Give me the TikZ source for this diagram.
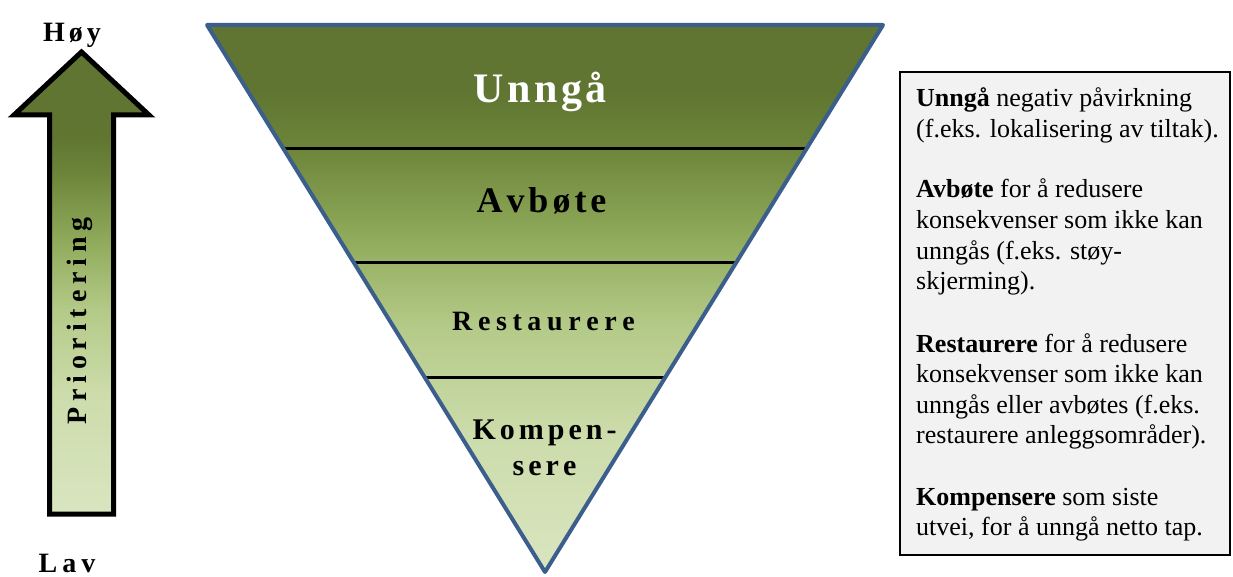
\documentclass[tikz,border=0pt]{standalone}
\usepackage{fontspec}
\setmainfont{Liberation Serif}
\usetikzlibrary{calc}

% letter-spaced text: #1 = gap between letters, #2 = word
\makeatletter
\newcommand\trackedtext[2]{\def\trk@gap{\kern#1}\let\trk@sep\relax
  \@tfor\trk@c:=#2\do{\trk@sep\trk@c\let\trk@sep\trk@gap}}
\makeatother

\definecolor{olive0}{HTML}{5F7531}
\definecolor{olive1}{HTML}{6C8439}
\definecolor{olive2}{HTML}{92AD5E}
\definecolor{olive3}{HTML}{B4CA88}
\definecolor{olive4}{HTML}{CCDCAB}
\definecolor{olive5}{HTML}{D9E5C0}
\definecolor{rimblue}{HTML}{3B5E8C}
\definecolor{notegray}{HTML}{F2F2F2}

% vertical shadings, bottom (0bp) to top (100bp); the path box spans 25bp--75bp
\pgfdeclareverticalshading{funnelshade}{100bp}{
  color(0bp)=(olive5); color(25bp)=(olive5); color(37.5bp)=(olive4);
  color(47.5bp)=(olive3); color(55bp)=(olive2); color(64bp)=(olive1);
  color(69bp)=(olive0); color(100bp)=(olive0)}
\pgfdeclareverticalshading{arrowshade}{100bp}{
  color(0bp)=(olive5); color(25bp)=(olive5); color(38bp)=(olive4);
  color(47bp)=(olive3); color(54bp)=(olive2); color(62bp)=(olive1);
  color(66bp)=(olive0); color(100bp)=(olive0)}

\tikzset{
  layerlabel/.style={anchor=base, inner sep=0pt},
  sidelabel/.style={anchor=base, inner sep=0pt,
    font=\fontsize{28}{32}\selectfont\bfseries},
  noteline/.style={anchor=base west, inner sep=0pt,
    font=\fontsize{26}{30}\selectfont},
  divider/.style={line width=3pt, black},
}

\begin{document}
\begin{tikzpicture}[x=1pt, y=-1pt]
\useasboundingbox (0,0) rectangle (1233,577);

% ---- priority arrow ----
\coordinate (tip) at (81.5,52);
\path[shading=arrowshade, draw=black, line width=5pt, line join=miter]
  (tip) -- (149,115) -- (113.5,115) -- (113.5,514) -- (49.5,514) -- (49.5,115)
  -- (14,115) -- cycle;
\node[sidelabel] (hoy) at (72,42) {\trackedtext{4pt}{Høy}};
\node[sidelabel] (lav) at (67,572) {\trackedtext{5pt}{Lav}};
\node[anchor=base, inner sep=0pt, rotate=90,
  font=\fontsize{28}{32}\selectfont\bfseries] (prio) at (86.5,321)
  {\trackedtext{5.9pt}{Prioritering}};

% ---- inverted pyramid ----
\coordinate (TL) at (207,25);
\coordinate (TR) at (883,25);
\coordinate (B) at (545,572);
\fill[shading=funnelshade] (TL) -- (TR) -- (B) -- cycle;
\foreach \t/\n in {0.2249/a, 0.4333/b, 0.6453/c}{
  \draw[divider] ($(TL)!\t!(B)$) coordinate (l\n) -- ($(TR)!\t!(B)$) coordinate (r\n);
}
\draw[rimblue, line width=4pt, line join=round] (TL) -- (TR) -- (B) -- cycle;

\node[layerlabel, text=white, font=\fontsize{42}{48}\selectfont\bfseries]
  (unnga) at (540,103) {\trackedtext{3.5pt}{Unngå}};
\node[layerlabel, font=\fontsize{36}{42}\selectfont\bfseries]
  (avbote) at (541.5,213) {\trackedtext{4pt}{Avbøte}};
\node[layerlabel, font=\fontsize{28}{32}\selectfont\bfseries]
  (restaurere) at (543.5,330) {\trackedtext{5.6pt}{Restaurere}};
\node[layerlabel, font=\fontsize{30}{36}\selectfont\bfseries]
  (kompen) at (544.5,439) {\trackedtext{4pt}{Kompen-}};
\node[layerlabel, font=\fontsize{30}{36}\selectfont\bfseries]
  (sere) at (544.5,475) {\trackedtext{4pt}{sere}};

% ---- explanation box ----
\draw[fill=notegray, draw=black, line width=1.8pt] (900,72) rectangle (1230,555);
\node[noteline] (n1)  at (916,107)   {\textbf{Unngå} negativ påvirkning};
\node[noteline] (n2)  at (916,137.5) {(f.eks. lokalisering av tiltak).};
\node[noteline] (n3)  at (916,198)   {\textbf{Avbøte} for å redusere};
\node[noteline] (n4)  at (916,228.5) {konsekvenser som ikke kan};
\node[noteline] (n5)  at (916,259)   {unngås (f.eks. støy-};
\node[noteline] (n6)  at (916,289.5) {skjerming).};
\node[noteline] (n7)  at (916,352)   {\textbf{Restaurere} for å redusere};
\node[noteline] (n8)  at (916,382.5) {konsekvenser som ikke kan};
\node[noteline] (n9)  at (916,413)   {unngås eller avbøtes (f.eks.};
\node[noteline] (n10) at (916,443.5) {restaurere anleggsområder).};
\node[noteline] (n11) at (916,505)   {\textbf{Kompensere} som siste};
\node[noteline] (n12) at (916,535.5) {utvei, for å unngå netto tap.};
\end{tikzpicture}
\end{document}
